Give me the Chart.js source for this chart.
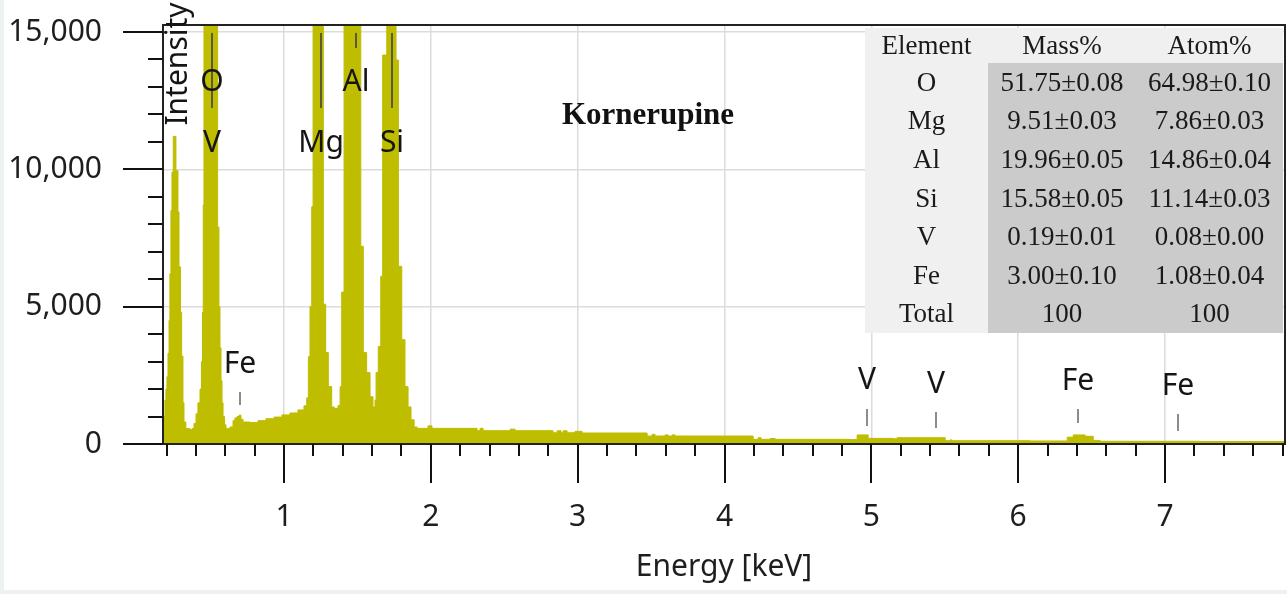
<!DOCTYPE html>
<html>
<head>
<meta charset="utf-8">
<title>Kornerupine EDS spectrum</title>
<script src="https://cdn.jsdelivr.net/npm/chart.js@4.4.1/dist/chart.umd.min.js"></script>
<style>
  html, body { margin: 0; padding: 0; }
  body { width: 1287px; height: 594px; background: #eef1f1; position: relative; overflow: hidden; }
  #frame { position: absolute; left: 4px; top: 0; width: 1283px; height: 590px; background: #fff; }
  #spectrum { position: absolute; left: 0; top: 0; }
  #quant { position: absolute; left: 861px; top: 28px; border-collapse: collapse;
           font-family: "Liberation Serif", serif; font-size: 27px; color: #1a1a1a; }
  #quant td { padding: 0; text-align: center; vertical-align: middle; background: #cbcbcb; }
  #quant tr.head td, #quant td.el { background: #f0f0f0; }
  #quant tr.head td { height: 35px; }
  #quant tr.row td { height: 38.6px; }
</style>
</head>
<body>
<div id="frame">
  <canvas id="spectrum" width="1283" height="590"></canvas>
  <table id="quant"></table>
</div>
<script>
// spectrum: channel start energy (keV) and counts held until the next channel
var energyKeV = [
  0.176, 0.183, 0.189, 0.196, 0.203, 0.210, 0.217, 0.223, 0.230, 0.237,
  0.246, 0.264, 0.278, 0.285, 0.295, 0.303, 0.312, 0.319, 0.332, 0.360,
  0.373, 0.387, 0.401, 0.414, 0.428, 0.438, 0.445, 0.450, 0.455, 0.548,
  0.557, 0.564, 0.571, 0.578, 0.585, 0.595, 0.605, 0.632, 0.653, 0.666,
  0.680, 0.694, 0.707, 0.721, 0.768, 0.823, 0.877, 0.932, 0.986, 1.041,
  1.095, 1.136, 1.155, 1.166, 1.177, 1.189, 1.198, 1.268, 1.284, 1.302,
  1.325, 1.341, 1.368, 1.382, 1.393, 1.409, 1.523, 1.540, 1.563, 1.586,
  1.606, 1.620, 1.627, 1.642, 1.659, 1.672, 1.700, 1.763, 1.779, 1.802,
  1.824, 1.845, 1.865, 1.886, 1.906, 1.981, 2.008, 2.315, 2.335, 2.356,
  2.540, 2.574, 2.832, 2.860, 2.887, 2.901, 2.928, 2.982, 3.030, 3.473,
  3.507, 3.527, 3.595, 3.616, 3.643, 3.664, 4.195, 4.229, 4.249, 4.311,
  4.345, 4.856, 4.903, 4.978, 5.149, 5.176, 5.503, 5.537, 5.550, 6.082,
  6.334, 6.375, 6.456, 6.511, 6.559, 7.240, 7.817
];
var counts = [
  600, 1000, 1600, 2000, 2450, 3300, 4500, 6200, 8500, 9900,
  11200, 9950, 8450, 6450, 4800, 3200, 1500, 800, 560, 520,
  560, 750, 1100, 1500, 2000, 3000, 4800, 8700, 20000, 7900,
  5000, 3500, 2300, 1500, 1000, 700, 560, 620, 850, 950,
  1000, 1050, 900, 800, 780, 850, 920, 980, 1060, 1130,
  1240, 1390, 1680, 3180, 5010, 8640, 20000, 5090, 3330, 2090,
  1350, 1300, 1400, 2090, 5530, 20000, 7200, 3330, 2600, 1720,
  1350, 1600, 2600, 3550, 6110, 14160, 20000, 13980, 6470, 3800,
  2090, 1350, 880, 620, 570, 660, 570, 485, 570, 485,
  540, 485, 410, 480, 410, 480, 410, 460, 400, 290,
  350, 290, 330, 290, 330, 290, 170, 230, 170, 200,
  170, 160, 330, 205, 190, 230, 120, 150, 120, 110,
  250, 330, 280, 130, 100, 90, 90
];

var energyTicks = [1, 2, 3, 4, 5, 6, 7];
var intensityTicks = [0, 5000, 10000, 15000];

// identified lines
var peakNames    = ['O', 'V', 'Mg', 'Al', 'Si', 'Fe', 'V', 'V', 'Fe', 'Fe'];
var peakEnergies = [0.51, 0.51, 1.25, 1.488, 1.734, 0.70, 4.97, 5.44, 6.407, 7.085];

// quantification table
var elements    = ['O', 'Mg', 'Al', 'Si', 'V', 'Fe'];
var massPct     = [51.75, 9.51, 19.96, 15.58, 0.19, 3.00];
var massErr     = [0.08, 0.03, 0.05, 0.05, 0.01, 0.10];
var atomPct     = [64.98, 7.86, 14.86, 11.14, 0.08, 1.08];
var atomErr     = [0.10, 0.03, 0.04, 0.03, 0.00, 0.04];
var totalPct    = 100;

// where each peak label and its marker stroke sit (intensity units)
var peakLayout = [
  { text: 13180, line: [14965, 12234], dark: true },
  { text: 10960 },
  { text: 10960, line: [14965, 12234], dark: true },
  { text: 13180, line: [14965, 14418], dark: true },
  { text: 10960, line: [14965, 12234], dark: true },
  { text: 2913, line: [1893, 1420] },
  { text: 2330, line: [1274, 655] },
  { text: 2185, line: [1165, 583] },
  { text: 2294, line: [1274, 765] },
  { text: 2112, line: [1092, 473] }
];

function buildTable() {
  var t = document.getElementById('quant');
  var html = '<colgroup><col style="width:123px"><col style="width:148px"><col style="width:147px"></colgroup>';
  html += '<tr class="head"><td>Element</td><td>Mass%</td><td>Atom%</td></tr>';
  for (var i = 0; i < elements.length; i++) {
    html += '<tr class="row"><td class="el">' + elements[i] + '</td><td>' +
      massPct[i].toFixed(2) + '±' + massErr[i].toFixed(2) + '</td><td>' +
      atomPct[i].toFixed(2) + '±' + atomErr[i].toFixed(2) + '</td></tr>';
  }
  html += '<tr class="row"><td class="el">Total</td><td>' + totalPct + '</td><td>' + totalPct + '</td></tr>';
  t.innerHTML = html;
}

var spectrumDecor = {
  id: 'spectrumDecor',
  afterDraw: function(chart) {
    var c = chart.ctx, a = chart.chartArea;
    var xs = chart.scales.x, ys = chart.scales.y;
    c.save();

    // frame and axis lines
    c.strokeStyle = '#222';
    c.lineWidth = 2;
    c.beginPath();
    c.moveTo(a.left, a.top); c.lineTo(a.right, a.top); c.lineTo(a.right, a.bottom);
    c.lineTo(a.left, a.bottom); c.closePath();
    c.stroke();

    // tick marks, long on the labelled values
    c.strokeStyle = '#111';
    c.beginPath();
    for (var i = 1; i <= 39; i++) {
      var e = i / 5;
      if (e < xs.min || e > xs.max + 0.02) continue;
      var px = Math.round(xs.getPixelForValue(e));
      var len = (i % 5 === 0) ? 39 : 12;
      c.moveTo(px, a.bottom); c.lineTo(px, a.bottom + len);
    }
    for (var v = 0; v <= 15000; v += 1000) {
      var py = Math.round(ys.getPixelForValue(v));
      var len2 = (v % 5000 === 0) ? 40 : 15;
      c.moveTo(a.left - len2, py); c.lineTo(a.left, py);
    }
    c.stroke();

    // peak markers and labels
    c.font = '30px "Noto Sans"';
    c.textAlign = 'center';
    c.textBaseline = 'middle';
    for (var k = 0; k < peakNames.length; k++) {
      var lay = peakLayout[k];
      var x = Math.round(xs.getPixelForValue(peakEnergies[k]));
      if (lay.line) {
        c.strokeStyle = lay.dark ? '#5a5a3a' : '#8c8c8c';
        c.lineWidth = 2;
        c.beginPath();
        c.moveTo(x, ys.getPixelForValue(lay.line[0]));
        c.lineTo(x, ys.getPixelForValue(lay.line[1]));
        c.stroke();
      }
      c.fillStyle = '#151515';
      c.fillText(peakNames[k], x, ys.getPixelForValue(lay.text));
    }

    // rotated axis name inside the plot
    c.save();
    c.translate(a.left + 15, 64);
    c.rotate(-Math.PI / 2);
    c.fillStyle = '#151515';
    c.fillText('Intensity', 0, 0);
    c.restore();

    c.font = 'bold 31px "Liberation Serif"';
    c.fillStyle = '#111';
    c.fillText('Kornerupine', 644, 116);
    c.restore();
  }
};

function drawChart() {
  var points = energyKeV.map(function(e, i) { return { x: e, y: counts[i] }; });
  new Chart(document.getElementById('spectrum'), {
    type: 'line',
    data: {
      datasets: [{
        data: points,
        stepped: true,
        fill: 'origin',
        backgroundColor: '#bfbd00',
        borderColor: '#bfbd00',
        borderWidth: 1,
        pointRadius: 0
      }]
    },
    options: {
      responsive: false,
      animation: false,
      events: [],
      layout: { padding: { top: 25, right: 2, left: 0, bottom: 0 } },
      plugins: { legend: { display: false }, tooltip: { enabled: false } },
      scales: {
        x: {
          type: 'linear',
          min: 0.176,
          max: 7.817,
          afterBuildTicks: function(s) { s.ticks = energyTicks.map(function(v) { return { value: v }; }); },
          afterFit: function(s) { s.height = 146; s.paddingLeft = 0; s.paddingRight = 0; },
          grid: { color: '#dcdcdc', lineWidth: 1.5, drawTicks: false },
          border: { display: false },
          ticks: { padding: 55, color: '#1e1e1e', font: { size: 30 }, maxRotation: 0 },
          title: { display: true, text: 'Energy [keV]', color: '#1e1e1e', font: { size: 30 }, padding: { top: 0, bottom: 5 } }
        },
        y: {
          min: 0,
          max: 15255,
          afterBuildTicks: function(s) { s.ticks = intensityTicks.map(function(v) { return { value: v }; }); },
          afterFit: function(s) { s.width = 159; s.paddingTop = 0; s.paddingBottom = 0; },
          grid: { color: '#dcdcdc', lineWidth: 1.5, drawTicks: false },
          border: { display: false },
          ticks: {
            padding: 61, color: '#1e1e1e', font: { size: 30 },
            callback: function(v) { return v.toLocaleString('en-US'); }
          }
        }
      }
    },
    plugins: [spectrumDecor]
  });
}

Chart.defaults.font.family = '"Noto Sans"';
buildTable();
document.fonts.load('30px "Noto Sans"').then(drawChart, drawChart);
</script>
</body>
</html>
